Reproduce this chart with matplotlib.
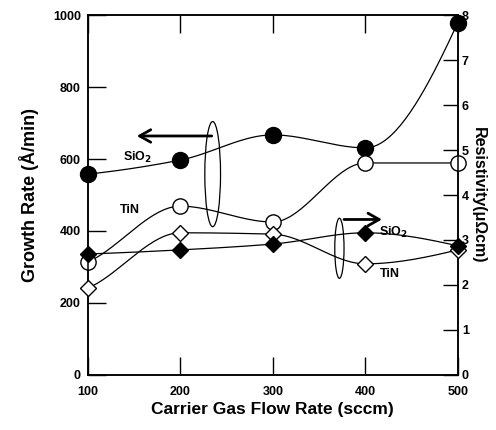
import numpy as np
import matplotlib
matplotlib.use("Agg")
import matplotlib.pyplot as plt
from matplotlib.patches import Ellipse

plt.rcParams["font.family"] = ["Liberation Sans", "DejaVu Sans"]
plt.rcParams["font.weight"] = "bold"

flow = [100, 200, 300, 400, 500]
sio2_growth = [558, 597, 667, 631, 979]
tin_growth = [314, 469, 425, 589, 589]
sio2_resist = [2.69, 2.78, 2.91, 3.16, 2.87]
tin_resist = [1.93, 3.16, 3.13, 2.47, 2.78]


def smooth(x, y, n=40):
    # monotone cubic (pchip) curve through the points
    x = np.asarray(x, float)
    y = np.asarray(y, float)
    h = np.diff(x)
    d = np.diff(y) / h
    m = np.zeros_like(y)
    for i in range(1, len(y) - 1):
        if d[i - 1] * d[i] > 0:
            w1 = 2 * h[i] + h[i - 1]
            w2 = h[i] + 2 * h[i - 1]
            m[i] = (w1 + w2) / (w1 / d[i - 1] + w2 / d[i])
    m[0] = d[0] * 0.7
    m[-1] = d[-1] * 1.6
    xs, ys = [], []
    t = np.linspace(0, 1, n)
    for i in range(len(x) - 1):
        h00 = 2 * t ** 3 - 3 * t ** 2 + 1
        h10 = t ** 3 - 2 * t ** 2 + t
        h01 = -2 * t ** 3 + 3 * t ** 2
        h11 = t ** 3 - t ** 2
        xs.extend(x[i] + t * h[i])
        ys.extend(h00 * y[i] + h10 * h[i] * m[i] + h01 * y[i + 1]
                  + h11 * h[i] * m[i + 1])
    return xs, ys


fig = plt.figure(figsize=(4.96, 4.30), dpi=100)
ax = fig.add_axes([0.177, 0.128, 0.746, 0.837])
ax2 = ax.twinx()

lw = 0.9
ax.plot(*smooth(flow, sio2_growth), color="black", lw=lw, zorder=2)
ax.plot(flow, sio2_growth, "o", ms=11.5, color="black", zorder=3,
        clip_on=False)
ax.plot(*smooth(flow, tin_growth), color="black", lw=lw, zorder=2)
ax.plot(flow, tin_growth, "o", ms=11, mfc="white", mec="black", mew=1.0,
        zorder=3, clip_on=False)

ax2.plot(*smooth(flow, sio2_resist), color="black", lw=lw, zorder=2)
ax2.plot(flow, sio2_resist, "D", ms=8.5, color="black", zorder=4,
         clip_on=False)
ax2.plot(*smooth(flow, tin_resist), color="black", lw=lw, zorder=2)
ax2.plot(flow, tin_resist, "D", ms=8.5, mfc="white", mec="black", mew=1.0,
         zorder=3, clip_on=False)

ax.set_xlim(100, 500)
ax.set_ylim(0, 1000)
ax2.set_ylim(0, 8)

ax.set_xticks([100, 200, 300, 400, 500])
ax.set_yticks([0, 200, 400, 600, 800, 1000])
ax2.set_yticks([0, 1, 2, 3, 4, 5, 6, 7, 8])
ax.tick_params(axis="both", direction="in", length=13, width=1.0,
               labelsize=9, top=True, pad=5)
ax.tick_params(axis="x", pad=8)
ax2.tick_params(axis="y", direction="in", length=11, width=1.0,
                labelsize=9, pad=3)
for lab in ax.get_xticklabels() + ax.get_yticklabels() + ax2.get_yticklabels():
    lab.set_fontweight("bold")

for a in (ax, ax2):
    for s in a.spines.values():
        s.set_linewidth(1.1)

ax.set_xlabel("Carrier Gas Flow Rate (sccm)", fontsize=12.5,
              fontweight="bold", labelpad=3)
ax.set_ylabel("Growth Rate (Å/min)", fontsize=13, fontweight="bold",
              labelpad=10)
ax2.set_ylabel("Resistivity(μΩcm)", fontsize=11.5, fontweight="bold",
               rotation=-90, labelpad=12)

# annotations in growth-rate axis coords
ax.text(154, 605, "SiO$_2$", fontsize=9, ha="center", va="center")
ax.text(145, 458, "TiN", fontsize=9, ha="center", va="center")
ax.annotate("", xy=(150, 664), xytext=(237, 664),
            arrowprops=dict(arrowstyle="->,head_length=0.8,head_width=0.45",
                            lw=2.0, color="black"))
ax.add_patch(Ellipse((235, 558), 17, 292, fill=False, lw=0.9, color="black"))

ax.text(430, 397, "SiO$_2$", fontsize=9, ha="center", va="center")
ax.text(427, 280, "TiN", fontsize=9, ha="center", va="center")
ax.annotate("", xy=(421, 432), xytext=(374, 432),
            arrowprops=dict(arrowstyle="->,head_length=0.8,head_width=0.45",
                            lw=2.0, color="black"))
ax.add_patch(Ellipse((372, 352), 10, 167, fill=False, lw=0.9, color="black"))

fig.savefig("out.png", dpi=100)
